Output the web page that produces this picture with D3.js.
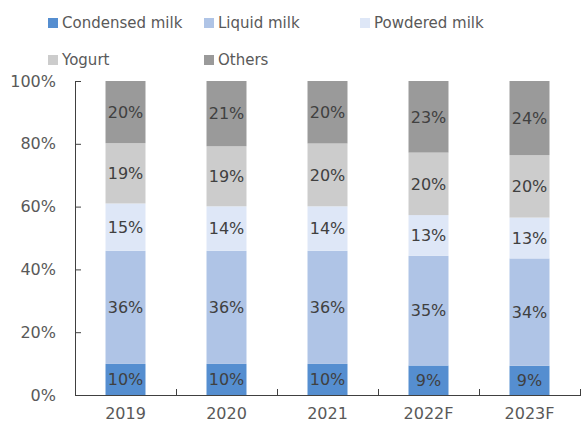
<!DOCTYPE html>
<html>
<head>
<meta charset="utf-8">
<script src="https://cdn.jsdelivr.net/npm/d3@7"></script>
<style>
  body { margin: 0; background: #fff; }
  text { font-family: "DejaVu Sans", sans-serif; }
</style>
</head>
<body>
<div id="chart-area"></div>
<script>
// data (share of each product, %)
var years = ["2019", "2020", "2021", "2022F", "2023F"]
var seriesNames = ["Condensed milk", "Liquid milk", "Powdered milk", "Yogurt", "Others"]
var condensed = [9.9, 9.9, 9.9, 9.4, 9.3]
var liquid = [36.0, 36.0, 36.0, 34.9, 34.2]
var powdered = [15.1, 14.2, 14.2, 13.0, 13.0]
var yogurt = [19.2, 19.1, 20.0, 19.9, 19.9]
var others = [19.8, 20.8, 19.9, 22.8, 23.6]
var yTicks = [0, 20, 40, 60, 80, 100]

var colors = ["#558ed0", "#afc4e6", "#dee7f7", "#cccccc", "#9a9a9a"]

var width = 582
var height = 427
var margin = {top: 81, right: 2, bottom: 32, left: 75}
var plotW = width - margin.left - margin.right
var plotH = height - margin.top - margin.bottom

var svg = d3.select("#chart-area").append("svg")
  .attr("width", width)
  .attr("height", height)

var g = svg.append("g")
  .attr("transform", "translate(" + margin.left + ", " + margin.top + ")")

// table for the stack
var keys = ["condensed", "liquid", "powdered", "yogurt", "others"]
var table = years.map((y, i) => ({
  year: y,
  condensed: condensed[i],
  liquid: liquid[i],
  powdered: powdered[i],
  yogurt: yogurt[i],
  others: others[i]
}))

var stacked = d3.stack().keys(keys)(table)

var x = d3.scaleBand()
  .domain(years)
  .range([0, plotW])
  .paddingInner(0.604)
  .paddingOuter(0.302)

var y = d3.scaleLinear()
  .domain([0, 100])
  .range([plotH, 0])

// bars
var layers = g.selectAll(".layer")
  .data(stacked)
  .enter().append("g")
  .attr("class", "layer")
  .attr("fill", (d, i) => colors[i])

layers.selectAll("rect")
  .data(d => d)
  .enter().append("rect")
  .attr("x", d => x(d.data.year))
  .attr("width", x.bandwidth())
  .attr("y", d => y(d[1]))
  .attr("height", d => y(d[0]) - y(d[1]))

// data labels
layers.selectAll(".lbl")
  .data(d => d.map(v => ({v: v, key: d.key})))
  .enter().append("text")
  .attr("class", "lbl")
  .attr("x", d => x(d.v.data.year) + x.bandwidth() / 2)
  .attr("y", d => (y(d.v[0]) + y(d.v[1])) / 2)
  .attr("dy", "0.36em")
  .attr("text-anchor", "middle")
  .attr("font-size", "16px")
  .style("fill", "#404040")
  .text(d => Math.round(d.v.data[d.key]) + "%")

// Y axis
var yAxisCall = d3.axisLeft(y)
  .tickValues(yTicks)
  .tickSize(-6)
  .tickPadding(19)
  .tickFormat(d => d + "%")

var yAxisGroup = g.append("g")
  .attr("class", "y axis")
  .call(yAxisCall)

yAxisGroup.select(".domain").attr("d", "M0.5,0V" + plotH)

// X axis
var xAxisGroup = g.append("g")
  .attr("class", "x axis")
  .attr("transform", "translate(0, " + plotH + ")")

xAxisGroup.append("line")
  .attr("x1", 0).attr("x2", plotW + 1)
  .attr("y1", 0.5).attr("y2", 0.5)

xAxisGroup.selectAll(".tick-mark")
  .data(years)
  .enter().append("line")
  .attr("class", "tick-mark")
  .attr("x1", (d, i) => Math.round(x.step() * (i + 1)) + 0.5)
  .attr("x2", (d, i) => Math.round(x.step() * (i + 1)) + 0.5)
  .attr("y1", 0).attr("y2", -6)

xAxisGroup.selectAll(".tick-label")
  .data(years)
  .enter().append("text")
  .attr("class", "tick-label")
  .attr("x", d => x(d) + x.bandwidth() / 2)
  .attr("y", 24)
  .attr("text-anchor", "middle")
  .attr("font-size", "16px")
  .style("fill", "#595959")
  .text(d => d)

svg.selectAll(".axis line, .axis path")
  .attr("stroke", "#404040")
  .attr("stroke-width", 1)
  .attr("fill", "none")

yAxisGroup.selectAll("text")
  .attr("font-size", "16px")
  .attr("font-family", "DejaVu Sans")
  .style("fill", "#595959")

// legend
var legendPos = [[48, 23], [204, 23], [360, 23], [48, 60], [204, 60]]

var legend = svg.selectAll(".legend")
  .data(seriesNames)
  .enter().append("g")
  .attr("class", "legend")
  .attr("transform", (d, i) => "translate(" + legendPos[i][0] + ", " + legendPos[i][1] + ")")

legend.append("rect")
  .attr("x", 0).attr("y", -5)
  .attr("width", 10).attr("height", 10)
  .attr("fill", (d, i) => colors[i])

legend.append("text")
  .attr("x", 14)
  .attr("dy", "0.36em")
  .attr("font-size", "15px")
  .style("fill", "#595959")
  .text(d => d)
</script>
</body>
</html>
